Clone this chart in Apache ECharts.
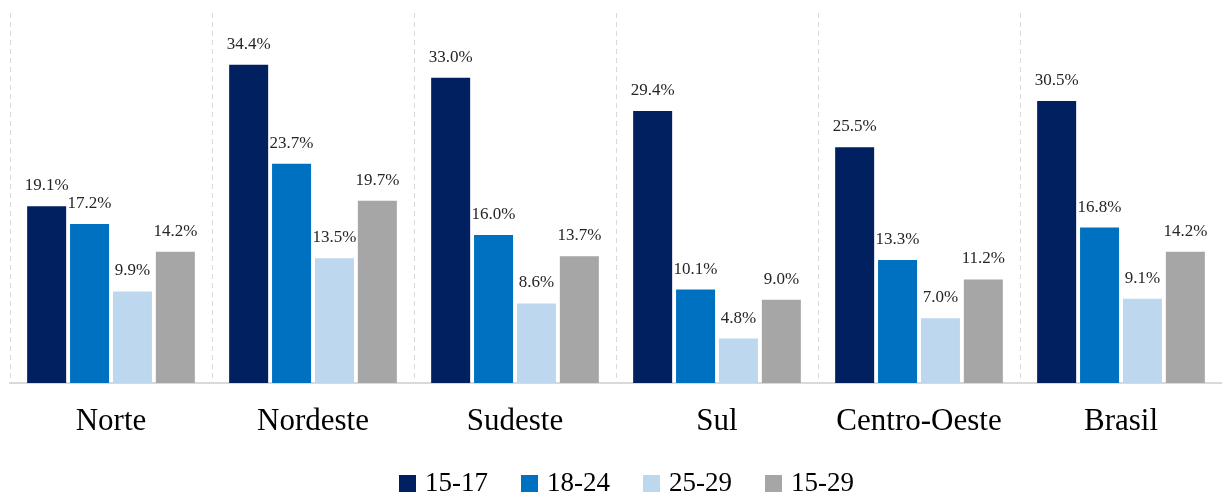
<!DOCTYPE html>
<html>
<head>
<meta charset="utf-8">
<script src="https://cdn.jsdelivr.net/npm/echarts@6/dist/echarts.min.js"></script>
<style>
html,body{margin:0;padding:0;background:#fff;}
#chart{width:1222px;height:495px;}
</style>
</head>
<body>
<div id="chart"></div>
<script>
const categories = ['Norte', 'Nordeste', 'Sudeste', 'Sul', 'Centro-Oeste', 'Brasil'];
const seriesNames = ['15-17', '18-24', '25-29', '15-29'];
const s1517 = [19.1, 34.4, 33.0, 29.4, 25.5, 30.5];
const s1824 = [17.2, 23.7, 16.0, 10.1, 13.3, 16.8];
const s2529 = [9.9, 13.5, 8.6, 4.8, 7.0, 9.1];
const s1529 = [14.2, 19.7, 13.7, 9.0, 11.2, 14.2];
const colors = ['#002060', '#0070C0', '#BDD7EE', '#A6A6A6'];

const serif = '"Liberation Serif", "DejaVu Serif", serif';
const values = [s1517, s1824, s2529, s1529];

const chart = echarts.init(document.getElementById('chart'));
chart.setOption({
  animation: false,
  color: colors,
  grid: { left: 10, top: 13, width: 1216, height: 370 },
  legend: {
    data: seriesNames,
    top: 465,
    left: 394,
    icon: 'rect',
    itemWidth: 17,
    itemHeight: 17,
    itemGap: 33,
    textStyle: { fontFamily: serif, fontSize: 27, color: '#000', padding: [0, 0, 0, 4] }
  },
  xAxis: {
    type: 'category',
    data: categories,
    axisLine: { show: true, lineStyle: { color: '#D9D9D9', width: 2 } },
    axisTick: { show: false },
    axisLabel: { interval: 0, fontFamily: serif, fontSize: 31, color: '#000', margin: 23 },
    splitLine: { show: true, interval: 0, lineStyle: { color: '#D9D9D9', type: [5, 4], width: 1 } }
  },
  yAxis: {
    type: 'value',
    min: 0,
    max: 40,
    show: false,
    splitLine: { show: false }
  },
  series: seriesNames.map((name, i) => ({
    name: name,
    type: 'bar',
    data: values[i],
    barWidth: 39,
    barGap: '10%',
    label: {
      show: true,
      position: 'top',
      distance: 12,
      fontFamily: serif,
      fontSize: 17,
      color: '#262626',
      formatter: p => p.value.toFixed(1) + '%'
    }
  }))
});
</script>
</body>
</html>
